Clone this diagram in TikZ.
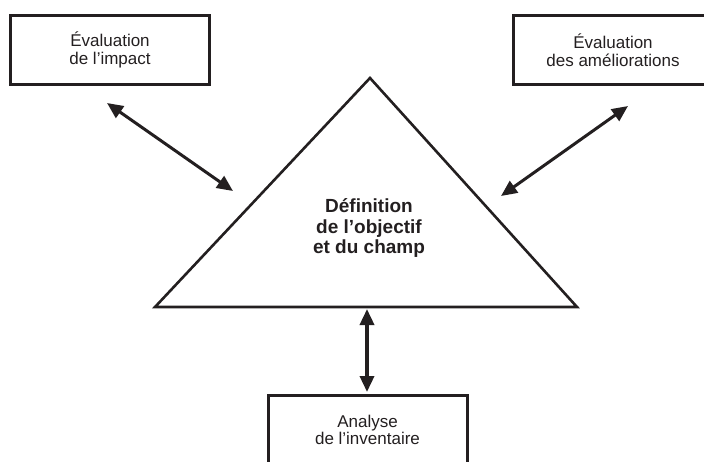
\documentclass[tikz,border=0pt]{standalone}
\usepackage{fontspec}
\setmainfont{Liberation Sans}
\usetikzlibrary{arrows.meta}
\definecolor{ink}{HTML}{231F20}
\begin{document}
\begin{tikzpicture}[x=1pt,y=-1pt,
  stagebox/.style={draw=ink,line width=3pt,minimum width=199pt,minimum height=69pt,
    inner sep=0pt,align=center,text=ink,font=\fontsize{17}{17.5}\selectfont},
  centretext/.style={align=center,text=ink,font=\bfseries\fontsize{19}{20.5}\selectfont},
  link/.style={draw=ink,line width=3pt,{Triangle[length=16pt,width=14pt]}-{Triangle[length=16pt,width=14pt]}}]
\useasboundingbox (0,0) rectangle (704,461);
\clip (0,0) rectangle (704,461);

% outer stages
\node[stagebox] (impact) at (110,50) {Évaluation\\de l’impact};
\node[stagebox] (amelio) at (613,50) {Évaluation\\des améliorations};
\node[stagebox] (inventaire) at (367.5,430) {Analyse\\de l’inventaire};

% central triangle
\coordinate (apex) at (370,78);
\coordinate (bl) at (155,307);
\coordinate (br) at (577,307);
\draw[ink,line width=2.6pt,line join=miter] (apex) -- (bl) -- (br) -- cycle;
\node[centretext] (objectif) at (369,228) {Définition\\de l’objectif\\et du champ};

% arrow end points
\coordinate (li) at (107,103);
\coordinate (lt) at (233,191);
\coordinate (ri) at (628,106);
\coordinate (rt) at (501,196);
\coordinate (bt) at (367,309);
\coordinate (bi) at (367,392);

\draw[link] (li) -- (lt);
\draw[link] (ri) -- (rt);
\draw[link,line width=3.5pt] (bt) -- (bi);
\end{tikzpicture}
\end{document}
